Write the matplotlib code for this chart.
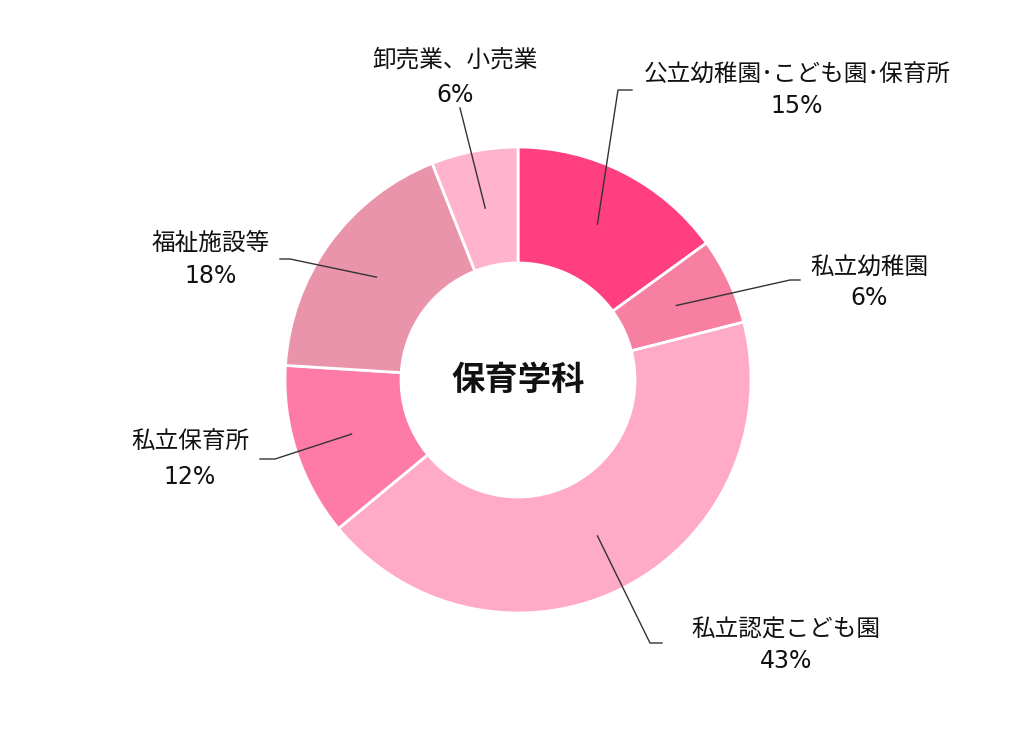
import numpy as np
import matplotlib.pyplot as plt

plt.rcParams['font.family'] = ['Noto Sans CJK JP', 'DejaVu Sans']

labels = ['公立幼稚園･こども園･保育所', '私立幼稚園', '私立認定こども園',
          '私立保育所', '福祉施設等', '卸売業、小売業']
values = [15, 6, 43, 12, 18, 6]
colors = ['#FF3F80', '#F77FA1', '#FFAAC7', '#FF7BA7', '#E994AB', '#FFB3CD']

# label layout (pixel coords, y from top): elbow point, elbow end, text centre x, name y, pct y
elbows = [(618, 90), (790, 280), (650, 643), (275, 459), (290, 259), (460, 108)]
elbow_ends = [(632, 90), (800, 280), (662, 643), (260, 459), (280, 259), (460, 108)]
text_x = [797, 869, 786, 190, 211, 455]
name_y = [75, 267, 630, 442, 243, 60]
pct_y = [106, 298, 661, 477, 276, 95]

W, H = 1024, 729
cx, cy, R = 518, 380, 233

fig = plt.figure(figsize=(W / 100, H / 100), dpi=100)
ax = fig.add_axes([0, 0, 1, 1])

wedges, _ = ax.pie(values, colors=colors, startangle=90, counterclock=False,
                   center=(cx, H - cy), radius=R,
                   wedgeprops=dict(width=116, edgecolor='white', linewidth=2))
ax.set_xlim(0, W)
ax.set_ylim(0, H)
ax.set_aspect('equal')
ax.axis('off')

for i, w in enumerate(wedges):
    mid = np.deg2rad((w.theta1 + w.theta2) / 2)
    r0 = R - 58
    x0 = cx + r0 * np.cos(mid)
    y0 = (H - cy) + r0 * np.sin(mid)
    e, ee = elbows[i], elbow_ends[i]
    ax.plot([x0, e[0], ee[0]], [y0, H - e[1], H - ee[1]], color='#333333', lw=1)
    ax.text(text_x[i], H - name_y[i], labels[i], ha='center', va='center',
            fontsize=17, color='#111111')
    ax.text(text_x[i], H - pct_y[i], f'{values[i]}%', ha='center', va='center',
            fontsize=17, color='#111111', family=['DejaVu Sans'])

ax.text(cx, H - cy, '保育学科', ha='center', va='center', fontsize=24,
        fontweight='bold', color='#111111')

fig.savefig('out.png', dpi=100, facecolor='white')
